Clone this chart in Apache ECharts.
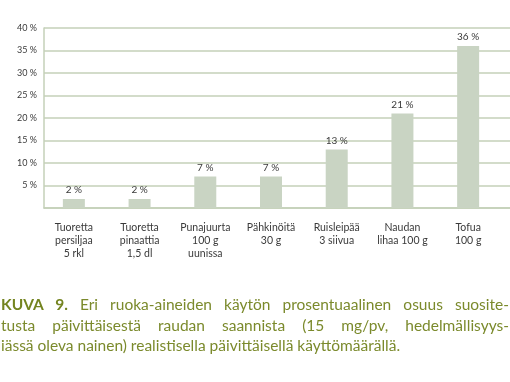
<!DOCTYPE html>
<html><head><meta charset="utf-8">
<script src="https://cdn.jsdelivr.net/npm/echarts@6/dist/echarts.min.js"></script>
<style>
html,body{margin:0;padding:0;background:#fff;}
#c{position:absolute;left:0;top:0;width:510px;height:382px;}
#cap{position:absolute;left:1px;top:294px;width:508px;font-family:"Lato","Noto Sans",sans-serif;font-size:15.5px;line-height:20.5px;color:#7b8a2c;}
#cap div{white-space:nowrap;}
#cap .j{text-align:justify;text-align-last:justify;white-space:normal;}
#cap b{font-weight:700;color:#748420;}
</style></head>
<body>
<div id="c"></div>
<div id="cap">
<div class="j"><b>KUVA 9.</b> Eri ruoka-aineiden käytön prosentuaalinen osuus suosite-</div>
<div class="j">tusta päivittäisestä raudan saannista (15 mg/pv, hedelmällisyys-</div>
<div>iässä oleva nainen) realistisella päivittäisellä käyttömäärällä.</div>
</div>
<script>
const categories = ["Tuoretta\npersiljaa\n5 rkl","Tuoretta\npinaattia\n1,5 dl","Punajuurta\n100 g\nuunissa","Pähkinöitä\n30 g","Ruisleipää\n3 siivua","Naudan\nlihaa 100 g","Tofua\n100 g"];
const values = [2, 2, 7, 7, 13, 21, 36];
const yTicks = [0, 5, 10, 15, 20, 25, 30, 35, 40];

const chart = echarts.init(document.getElementById('c'), null, {renderer:'canvas'});
const gridCol = '#c4d0b8';
const font = '"Lato","Noto Sans",sans-serif';
chart.setOption({
  animation:false,
  grid:[
    {left:44, right:0, top:28, height:180},
    {left:41, right:9, top:28, height:180}
  ],
  xAxis:[
    {gridIndex:0, type:'category', data:categories, axisLine:{show:true, lineStyle:{color:gridCol, width:1.5}}, axisTick:{show:false}, axisLabel:{show:false}},
    {gridIndex:1, type:'category', data:categories, axisLine:{show:false}, axisTick:{show:false},
     axisLabel:{interval:0, margin:13, fontSize:10.5, lineHeight:13, color:'#3a3a3a', fontFamily:font}}
  ],
  yAxis:[
    {gridIndex:0, type:'value', min:yTicks[0], max:yTicks[yTicks.length-1], interval:5,
     axisLine:{show:true, lineStyle:{color:gridCol, width:1.5}}, axisTick:{show:false},
     splitLine:{lineStyle:{color:gridCol, width:1.5}},
     axisLabel:{margin:7, fontSize:9, color:'#3a3a3a', fontFamily:font, formatter:v=> v===0 ? '' : v+' %'}},
    {gridIndex:1, type:'value', min:yTicks[0], max:yTicks[yTicks.length-1], show:false}
  ],
  series:[{
    type:'bar', xAxisIndex:1, yAxisIndex:1, data:values, barWidth:22,
    itemStyle:{color:'#c9d4c3'},
    label:{show:true, position:'top', distance:4, fontSize:10, color:'#3a3a3a', fontFamily:font, formatter:p=>p.value+' %'}
  }]
});
</script>
</body></html>
